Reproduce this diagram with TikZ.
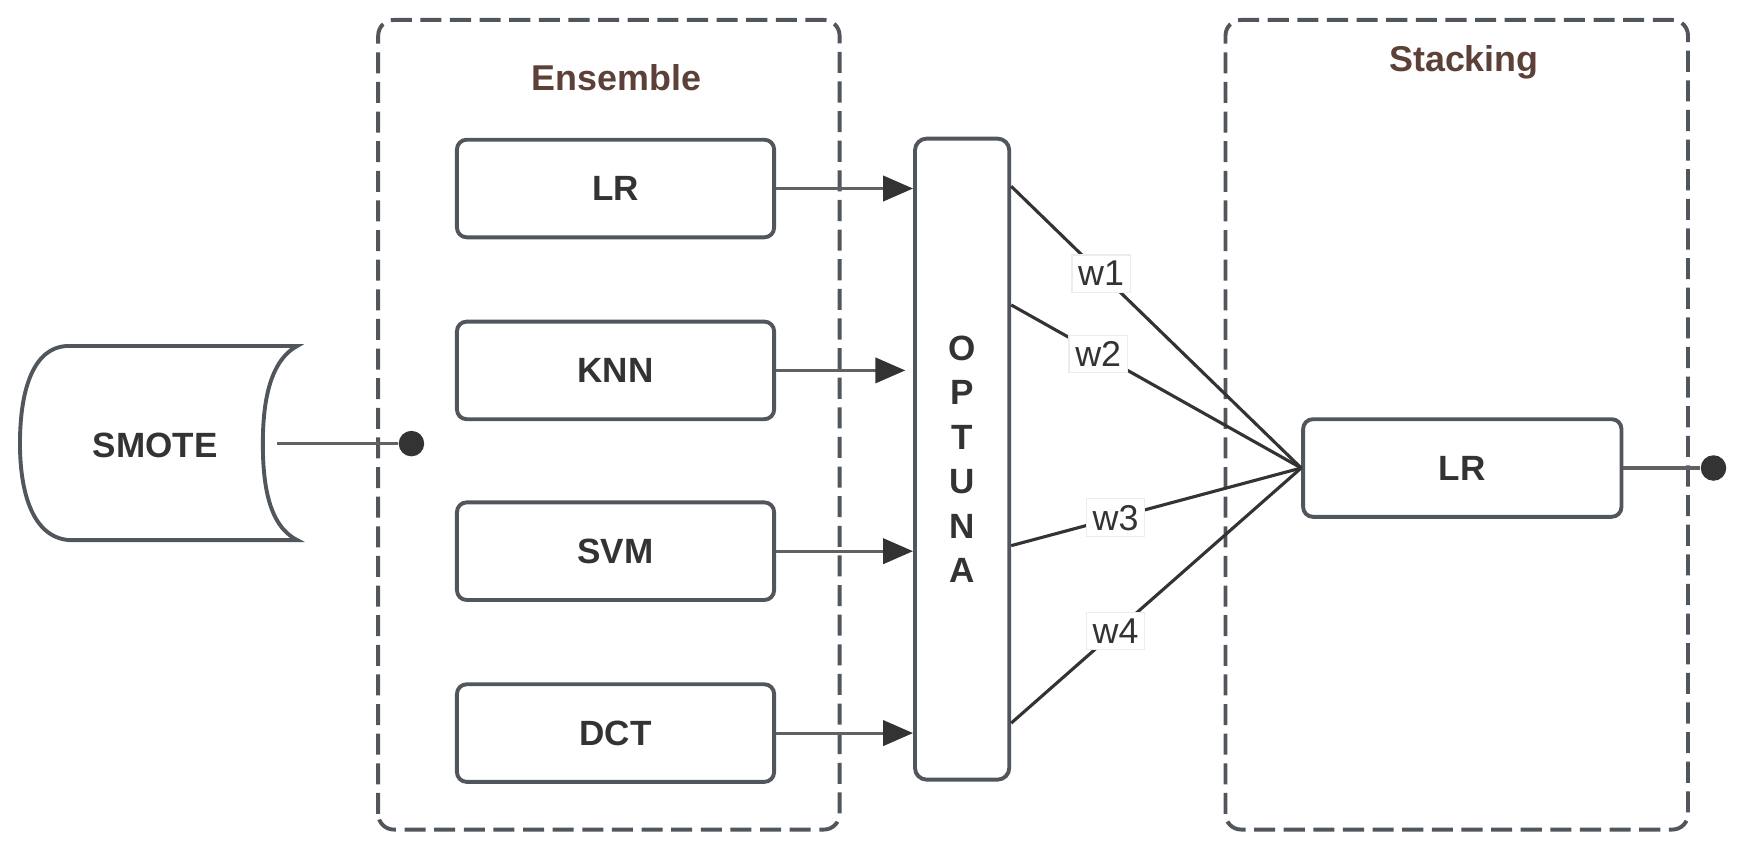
\documentclass[tikz,border=0pt]{standalone}
\usepackage{fontspec}
\setmainfont{Liberation Sans}
\usepackage{xcolor}
\usetikzlibrary{arrows.meta}
\definecolor{edge}{HTML}{50565C}
\definecolor{ink}{HTML}{333333}
\definecolor{title}{HTML}{5D4037}

\begin{document}
\begin{tikzpicture}[
  model/.style={rectangle,draw=edge,line width=1pt,rounded corners=2.5pt,minimum width=2.86cm,minimum height=0.88cm,font=\bfseries\fontsize{9}{11}\selectfont,text=ink},
  group/.style={draw=edge,line width=1pt,dash pattern=on 5.4pt off 2.2pt,rounded corners=4pt},
  heading/.style={font=\bfseries\fontsize{9.2}{11}\selectfont,text=title},
  link/.style={draw=black!62,line width=0.8pt},
  feed/.style={link,-{Triangle[length=7.7pt,width=6.5pt,color=ink]}},
  wline/.style={draw=ink,line width=0.8pt},
  weight/.style={fill=white,draw=gray!15,line width=0.3pt,inner sep=1.6pt,font=\fontsize{9.2}{11}\selectfont,text=ink},
  blob/.style={circle,fill=ink,inner sep=0pt,minimum size=0.23cm}
]
\useasboundingbox (0,0) rectangle (15.68,7.66);

% groups
\draw[group] (3.41,0.18) rectangle (7.57,7.48);
\draw[group] (11.05,0.18) rectangle (15.22,7.48);
\node (enstitle) at (5.56,6.96) [heading] {Ensemble};
\node (stktitle) at (13.20,7.10) [heading] {Stacking};

% data source
\draw[draw=edge,line width=1pt] (0.60,4.54) -- (2.68,4.54)
  .. controls (2.42,4.40) and (2.37,4.00) .. (2.37,3.66)
  .. controls (2.37,3.30) and (2.42,2.92) .. (2.68,2.79)
  -- (0.62,2.79)
  .. controls (0.28,2.82) and (0.18,3.25) .. (0.18,3.66)
  .. controls (0.18,4.10) and (0.28,4.52) .. cycle;
\node (smote) at (1.40,3.64) [font=\bfseries\fontsize{9}{11}\selectfont,text=ink] {SMOTE};
\coordinate (smoteout) at (2.50,3.66);
\node (in) at (3.71,3.66) [blob] {};

% base models
\node (lr)  at (5.55,5.96) [model] {LR};
\node (knn) at (5.55,4.32) [model] {KNN};
\node (svm) at (5.55,2.69) [model] {SVM};
\node (dct) at (5.55,1.05) [model] {DCT};

\node (optuna) at (8.675,3.52) [model,rounded corners=3pt,minimum width=0.85cm,minimum height=5.78cm,align=center,font=\bfseries\fontsize{9}{11.4}\selectfont] {O\\P\\T\\U\\N\\A};

% meta model
\node (meta) at (13.185,3.44) [model,minimum width=2.87cm] {LR};
\node (out) at (15.45,3.44) [blob] {};

\draw[link] (smoteout) -- (in);
\draw[feed] (lr.east)  -- (lr.east -| optuna.west);
\draw[feed] (knn.east) -- ([xshift=-0.07cm]knn.east -| optuna.west);
\draw[feed] (svm.east) -- (svm.east -| optuna.west);
\draw[feed] (dct.east) -- (dct.east -| optuna.west);

\draw[wline] ([yshift=2.46cm]optuna.east)  -- node[pos=0.31,weight] {w1} (meta.west);
\draw[wline] ([yshift=1.39cm]optuna.east)  -- node[pos=0.30,weight] {w2} (meta.west);
\draw[wline] ([yshift=-0.78cm]optuna.east) -- node[pos=0.36,weight] {w3} (meta.west);
\draw[wline] ([yshift=-2.38cm]optuna.east) -- node[pos=0.36,weight] {w4} (meta.west);

\draw[link] (meta.east) -- (out);
\end{tikzpicture}
\end{document}
